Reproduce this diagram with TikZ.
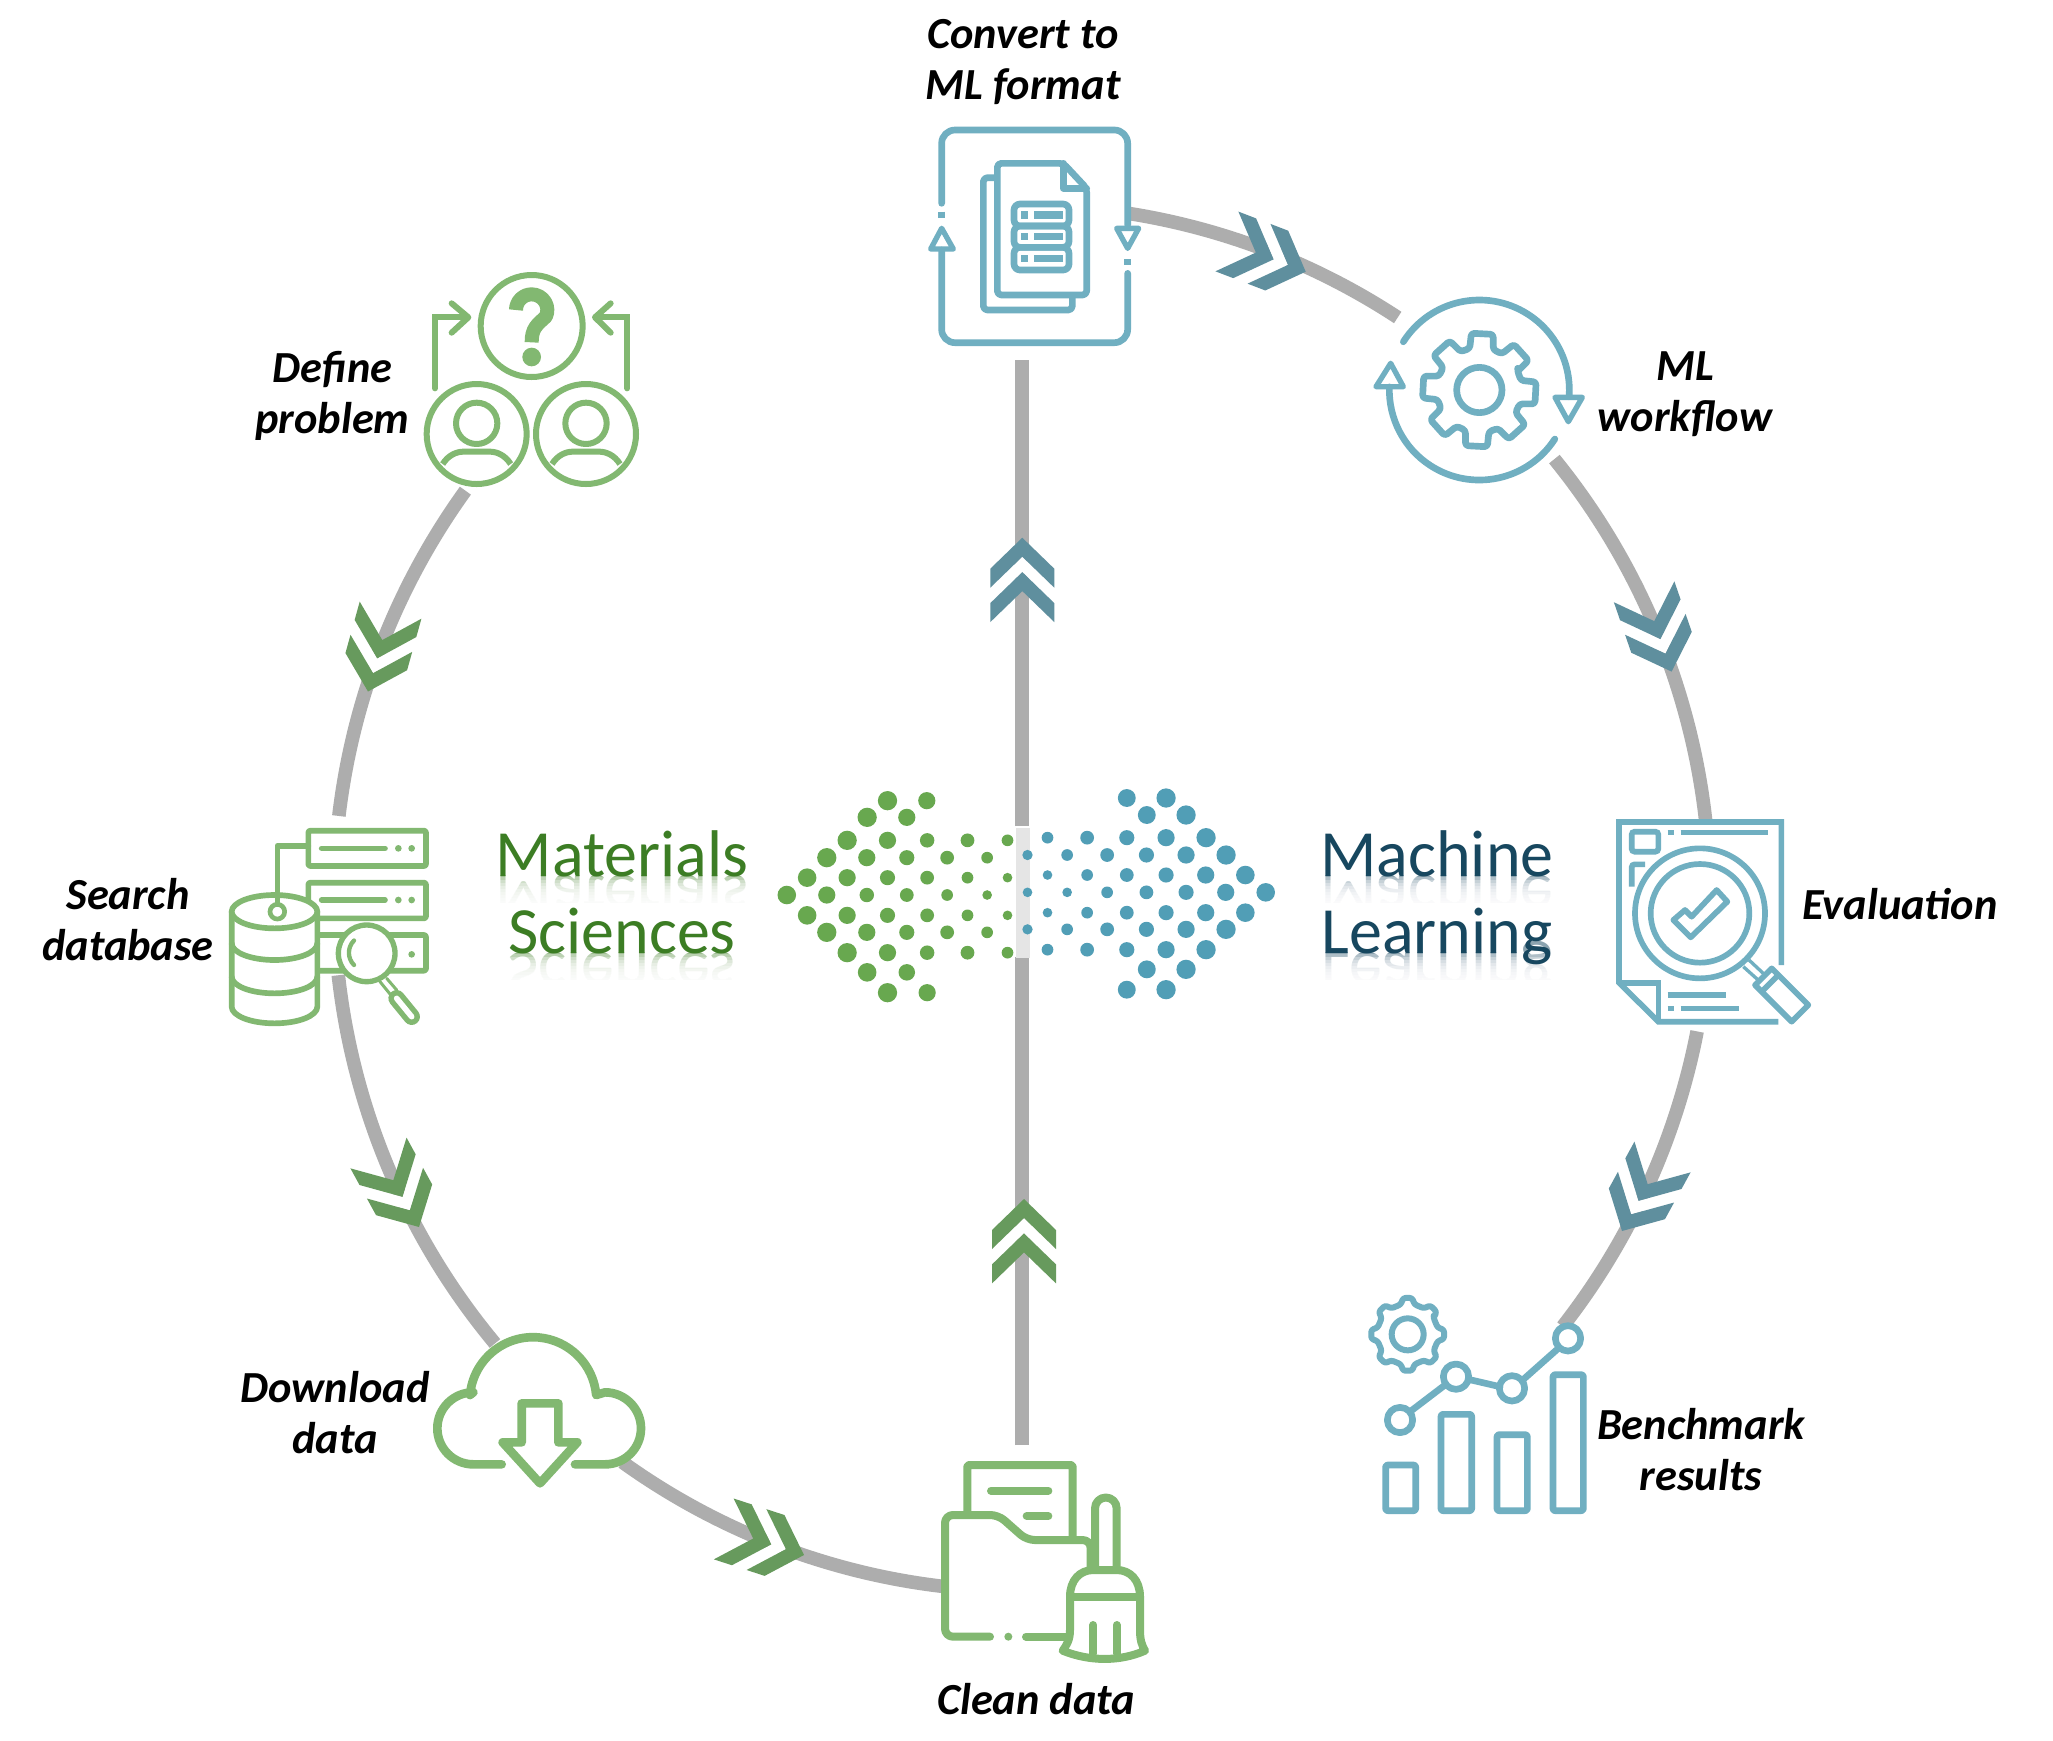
\documentclass[tikz,border=0pt]{standalone}
\usepackage{fontspec}
\usepackage{graphicx}
\setmainfont{Carlito}
\definecolor{gico}{HTML}{82B871}
\definecolor{tico}{HTML}{70AFC1}
\definecolor{gtxt}{HTML}{3C7D24}
\definecolor{ttxt}{HTML}{17475F}
\definecolor{gchev}{HTML}{679A5D}
\definecolor{tchev}{HTML}{5F8F9E}
\definecolor{ringc}{HTML}{ADADAD}
\definecolor{gdot}{HTML}{68A84F}
\definecolor{tdot}{HTML}{519EB6}
\tikzset{
  zoomat/.style 2 args={shift={(#1,#2)},x=0.16667pt,y=-0.16667pt},
  zl/.style={line width=#1*0.16667pt},
  rnd/.style={line cap=round,line join=round},
  ringline/.style={draw=ringc,line width=6.8pt},
  lab/.style={align=center,inner sep=0pt,font=\fontsize{22.2}{25.5}\selectfont\bfseries\itshape},
  bigtxt/.style={anchor=base,inner sep=0pt,font=\fontsize{33}{38}\selectfont},
}
\newcommand{\ringseg}[3]{%
  \coordinate (#1s) at ({1022+688*cos(#2)},{898+693*sin(#2)});
  \draw[ringline] (#1s) arc[start angle=#2,end angle=#3,x radius=688,y radius=693];}
\newcommand{\chev}[4]{%
  \begin{scope}[shift={(#1,#2)},rotate=-#3]
    \fill[white] (-19,0)--(-50,32)--(-65.4,32)--(-34.4,0)--(-65.4,-32)--(-50,-32)--cycle;
    \fill[#4] (0,0)--(-31,32)--(-50,32)--(-19,0)--(-50,-32)--(-31,-32)--cycle;
    \fill[#4] (-34.4,0)--(-65.4,32)--(-84.4,32)--(-53.4,0)--(-84.4,-32)--(-65.4,-32)--cycle;
  \end{scope}}
% gear: rin, rout, half angle in, half angle out, start
\newcommand{\gearoutline}[5]{%
  ({315+#5+#3}:#1) \foreach \g in {0,45,...,315}{
    -- ({\g+#5-#3}:#1) -- ({\g+#5-#4}:#2) -- ({\g+#5+#4}:#2) -- ({\g+#5+#3}:#1)} -- cycle}
\begin{document}
\begin{tikzpicture}[x=0.5pt,y=-0.5pt]
\useasboundingbox (0,0) rectangle (2053,1741);
\fill[white] (0,0) rectangle (2053,1741);

% ring connectors
\ringseg{segone}{-81.5}{-56.9}
\ringseg{segtwo}{-39.3}{-6.4}
\ringseg{segthree}{11.1}{38.2}
\ringseg{segfour}{216}{186.8}
\ringseg{segfive}{173.6}{140}
\ringseg{segsix}{125.5}{96.6}

% central line
\coordinate (convertbottom) at (1021.8,360);
\coordinate (gaptop) at (1021.8,826);
\coordinate (gapbottom) at (1021.8,957);
\coordinate (cleantop) at (1021.8,1445);
\draw[ringline] (gaptop) -- (convertbottom);
\draw[ringline] (cleantop) -- (gapbottom);
\fill[black!10] (1016,828) rectangle (1029.5,957.5);

% chevrons
\chev{1305.7}{271.7}{21}{tchev}
\chev{1671.6}{671.6}{71}{tchev}
\chev{1622}{1231}{118.7}{tchev}
\chev{368}{691.5}{105.5}{gchev}
\chev{419}{1227}{61.3}{gchev}
\chev{804}{1555}{18}{gchev}
\chev{1022.3}{537.7}{-90}{tchev}
\chev{1024}{1199}{-90}{gchev}

% dots
\begin{scope}[shift={(750,760)},x=0.17857pt,y=-0.16667pt]
\foreach \px/\py/\pr in {385/122/28,495/122/25,328/172/28,439/172/25,
 272/241/28,385/241/25,496/241/21,609/241/20,721/241/17,
 215/293/28,327/293/25,439/293/22,552/293/20,664/293/17,
 160/353/27,272/353/25,385/353/22,496/353/20,609/353/17,721/353/14,
 103/405/27,215/405/25,327/405/21,439/405/20,552/405/17,664/405/14,
 160/466/27,272/466/25,385/466/22,496/466/20,609/466/17,721/466/14,
 215/517/28,327/517/25,439/517/22,552/517/20,664/517/17,
 272/578/28,385/578/25,496/578/21,609/578/20,721/578/17,
 328/637/27,439/637/24,385/698/28,496/698/25}
  \fill[gdot] (\px,\py) circle[radius=\pr*0.172pt];
\foreach \px/\py/\pr in {1055/114/26,1165/114/28,1111/165/26,1221/165/28,
 833/233/17,944/233/20,1055/233/22,1165/233/25,1277/233/28,
 777/285/15,888/285/17,1000/285/20,1110/285/22,1221/285/25,1333/285/28,
 833/345/14,944/345/17,1055/345/20,1165/345/22,1276/345/25,1387/345/27,
 777/397/14,888/397/14,1000/397/17,1110/397/20,1221/397/22,1332/397/25,1444/397/27,
 833/458/14,944/458/17,1055/458/20,1165/458/22,1276/458/25,1387/458/27,
 777/508/15,888/508/17,1000/508/20,1110/508/22,1221/508/25,1333/508/28,
 833/569/17,944/569/20,1055/569/22,1165/569/25,1277/569/28,
 1111/628/26,1221/628/28,1055/689/26,1165/689/28}
  \fill[tdot] (\px,\py) circle[radius=\pr*0.172pt];
\end{scope}

% reflections of the big words
\node[bigtxt,text=gtxt!50] (materialsref) at (622,875) {\scalebox{1}[-1]{Materials}};
\node[bigtxt,text=ttxt!50] (machineref) at (1437,875) {\scalebox{1}[-1]{Machine}};
\foreach \s in {2,5,8,11,14,17,20,23,26}{
  \fill[white,opacity=.3] (480,875+\s) rectangle (770,905);
  \fill[white,opacity=.3] (1300,875+\s) rectangle (1580,905);
}
\fill[white] (480,903) rectangle (770,950);
\fill[white] (1300,903) rectangle (1580,950);
\node[bigtxt,text=gtxt!50] (sciencesref) at (622,952) {\scalebox{1}[-1]{Sciences}};
\node[bigtxt,text=ttxt!50] (learningref) at (1437,952) {\scalebox{1}[-1]{Learning}};
\foreach \s in {2,5,8,11,14,17,20,23,26}{
  \fill[white,opacity=.3] (480,952+\s) rectangle (770,982);
  \fill[white,opacity=.3] (1300,952+\s) rectangle (1580,982);
}
\fill[white] (480,980) rectangle (770,1030);
\fill[white] (1300,980) rectangle (1580,1030);
\node[bigtxt,text=gtxt] (materials) at (622,876) {Materials};
\node[bigtxt,text=gtxt] (sciences) at (622,953) {Sciences};
\node[bigtxt,text=ttxt] (machine) at (1437,876) {Machine};
\node[bigtxt,text=ttxt] (learning) at (1437,953) {Learning};

% ---- Convert icon
\begin{scope}[zoomat={900}{100},draw=tico,rnd,zl=20]
\fill[white] (125,90) rectangle (683,728);
\draw[rounded corners=6.67pt] (125,310) -- (125,90) -- (683,90) -- (683,375);
\draw[rounded corners=6.67pt] (683,520) -- (683,728) -- (125,728) -- (125,450);
\draw[line cap=butt] (125,335) -- (125,353);
\draw[line cap=butt] (683,478) -- (683,496);
\draw[zl=16] (125,385) -- (92,447) -- (160,447) -- cycle;
\draw[zl=16] (650,385) -- (716,385) -- (683,445) -- cycle;
\draw[rounded corners=2pt] (285,233) -- (250,233) -- (250,630) -- (517,630) -- (517,590);
\draw[rounded corners=2pt] (292,190) -- (490,190) -- (560,265) -- (560,585) -- (292,585) -- cycle;
\draw (490,190) -- (490,265) -- (560,265);
\draw[rounded corners=3pt] (342,312) rectangle (507,378);
\draw[rounded corners=3pt] (342,378) rectangle (507,442);
\draw[rounded corners=3pt] (342,442) rectangle (507,510);
\foreach \ry in {345,410,475}{
  \fill[tico] (362,\ry-11) rectangle (385,\ry+11);
  \fill[tico] (403,\ry-11) rectangle (490,\ry+11);}
\end{scope}

% ---- ML workflow icon
\begin{scope}[zoomat={1350}{280},draw=tico,rnd,zl=20]
\begin{scope}[shift={(388,330)}]
\draw (0,0) circle[radius=68];
\draw[rounded corners=1.5pt] \gearoutline{128}{172}{16}{11}{3};
\draw (212.4:270) arc[start angle=212.4,end angle=364.3,radius=270];
\draw (33:270) arc[start angle=33,end angle=182,radius=270];
\end{scope}
\draw[zl=16] (615,352) -- (697,352) -- (655,425) -- cycle;
\draw[zl=16] (122,250) -- (78,320) -- (160,320) -- cycle;
\end{scope}

% ---- Evaluation icon
\begin{scope}[zoomat={1590}{800},draw=tico,zl=17]
\fill[white] (87,66) rectangle (574,665);
\draw[line join=miter] (574,495) -- (574,66) -- (87,66) -- (87,548) -- (205,665) -- (565,665);
\draw (87,548) -- (205,548) -- (205,665);
\draw[rounded corners=1.5pt] (125,95) rectangle (205,155);
\draw[rounded corners=1.5pt] (125,260) -- (125,193) -- (165,193);
\draw (233,97) -- (252,97);
\draw (272,97) -- (535,97);
\draw (233,585) -- (408,585);
\draw (233,625) -- (252,625);
\draw (272,625) -- (447,625);
\draw[fill=white] (330,340) circle[radius=195];
\draw (330,340) circle[radius=148];
\draw[line join=round] (250,360) -- (285,330) -- (305,350) -- (380,270) -- (412,305) -- (302,412) -- cycle;
\draw[zl=10] (477,480) -- (525,525);
\draw[zl=10] (460,500) -- (510,545);
\draw[fill=white,line join=round] (545,505) -- (655,615) -- (605,665) -- (495,555) -- cycle;
\draw (565,525) -- (515,575);
\end{scope}

% ---- Benchmark icon
\begin{scope}[zoomat={1350}{1270},draw=tico,rnd,zl=20]
\draw[rounded corners=1pt] (107,585) rectangle (197,722);
\draw[rounded corners=1pt] (273,433) rectangle (365,722);
\draw[rounded corners=1pt] (441,494) rectangle (532,722);
\draw[rounded corners=1pt] (609,314) rectangle (700,722);
\draw (180,425) -- (285,345);
\draw (355,328) -- (450,350);
\draw (518,330) -- (625,235);
\draw (150,450) circle[radius=38];
\draw (318,320) circle[radius=38];
\draw (486,355) circle[radius=38];
\draw[fill=white] (654,205) circle[radius=38];
\begin{scope}[shift={(173,193)}]
\draw[zl=18] (0,0) circle[radius=48];
\draw[zl=18,rounded corners=1.2pt] \gearoutline{92}{110}{13}{7}{0};
\end{scope}
\end{scope}

% ---- Clean data icon
\begin{scope}[zoomat={920}{1440},draw=gico,rnd,zl=24]
\draw[rounded corners=1pt] (142,215) -- (142,75) -- (458,75) -- (458,295);
\draw (213,152) -- (385,152);
\draw (320,228) -- (385,228);
\draw[rounded corners=4pt] (210,590) -- (75,590) -- (75,225) -- (235,225) -- (320,300) -- (512,300) -- (512,385);
\fill[gico] (265,590) circle[radius=12];
\draw (318,590) -- (440,590);
\draw (525,385) -- (525,205) arc[start angle=180,end angle=360,radius=32.5] -- (590,385);
\draw[fill=white] (450,470) .. controls (450,420) and (480,390) .. (520,390) -- (590,390)
  .. controls (630,390) and (660,420) .. (660,470) -- (660,570)
  .. controls (660,600) and (665,615) .. (675,632)
  .. controls (600,665) and (510,665) .. (428,632)
  .. controls (440,615) and (450,600) .. (450,570) -- cycle;
\draw (450,470) -- (660,470);
\draw (520,555) -- (520,640);
\draw (590,555) -- (590,640);
\end{scope}

% ---- Download icon
\begin{scope}[zoomat={420}{1320},draw=gico,rnd,zl=26]
\draw (245,433) -- (160,433) arc[start angle=90,end angle=270,radius=108]
   -- (150,225) arc[start angle=185,end angle=355,radius=190]
   -- (555,217) arc[start angle=270,end angle=450,radius=108] -- (465,433);
\draw[fill=white] (305,250) -- (415,250) -- (415,367) -- (472,367) -- (360,490) -- (248,367) -- (305,367) -- cycle;
\end{scope}

% ---- Search database icon
\begin{scope}[zoomat={220}{810},draw=gico,rnd,zl=17]
\draw[fill=white,rounded corners=1pt] (265,62) rectangle (618,168);
\draw[fill=white,rounded corners=1pt] (265,218) rectangle (618,325);
\draw[fill=white,rounded corners=1pt] (265,375) rectangle (618,482);
\draw (305,115) -- (495,115);
\draw (305,270) -- (495,270);
\fill[gico] (535,115) circle[radius=10] (575,115) circle[radius=10] (535,270) circle[radius=10] (575,270) circle[radius=10] (575,433) circle[radius=10];
\draw[fill=white] (35,305) -- (35,590) arc[start angle=180,end angle=0,x radius=128.5,y radius=50] -- (292,305) -- cycle;
\draw[fill=white] (163.5,305) ellipse[x radius=128.5,y radius=50];
\draw (35,400) arc[start angle=180,end angle=0,x radius=128.5,y radius=50];
\draw (35,500) arc[start angle=180,end angle=0,x radius=128.5,y radius=50];
\draw (265,107) -- (172,107) -- (172,283);
\draw[fill=white,zl=14] (172,305) circle[radius=22];
\draw[zl=9] (500,505) -- (530,540);
\draw[zl=9] (480,515) -- (510,552);
\draw[line width=8.3pt,line cap=round] (530,565) -- (575,620);
\draw[white,line width=2.8pt,line cap=round] (530,565) -- (575,620);
\draw[fill=white,zl=16] (440,430) circle[radius=85];
\draw[zl=13] (402,465) arc[start angle=135,end angle=225,radius=52];
\end{scope}

% ---- Define problem icon
\begin{scope}[zoomat={420}{260},draw=gico,rnd,zl=18]
\draw (335,198) circle[radius=153];
\draw[zl=42,line cap=butt,line join=round] (288,150) arc[start angle=180,end angle=385,radius=47] .. controls (350,195) and (335,205) .. (335,247);
\fill[gico] (335,291) circle[radius=28];
\draw[line join=miter] (45,385) -- (45,172) -- (140,172);
\draw (95,130) -- (145,172) -- (95,218);
\draw[line join=miter] (622,385) -- (622,172) -- (527,172);
\draw (572,130) -- (525,172) -- (572,218);
\foreach \ux in {170,498}{
  \draw[line cap=butt] (\ux,522) circle[radius=150];
  \draw (\ux,490) circle[radius=62];
  \draw[line cap=butt] (\ux-102,612) .. controls (\ux-85,585) and (\ux-60,575) .. (\ux-40,575) -- (\ux+40,575) .. controls (\ux+60,575) and (\ux+85,585) .. (\ux+102,612);
}
\end{scope}

% labels
\node[lab] (convertlabel) at (1023,62.5) {Convert to\\ML format};
\node[lab] (definelabel) at (332.5,396) {Define\\problem};
\node[lab] (mllabel) at (1685,394) {ML\\workflow};
\node[lab] (searchlabel) at (128,920) {Search\\database};
\node[lab] (evallabel) at (1900,904) {Evaluation};
\node[lab] (downloadlabel) at (335,1413) {Download\\data};
\node[lab] (cleanlabel) at (1036,1699) {Clean data};
\node[lab] (benchlabel) at (1701,1450) {Benchmark\\results};
\end{tikzpicture}
\end{document}
